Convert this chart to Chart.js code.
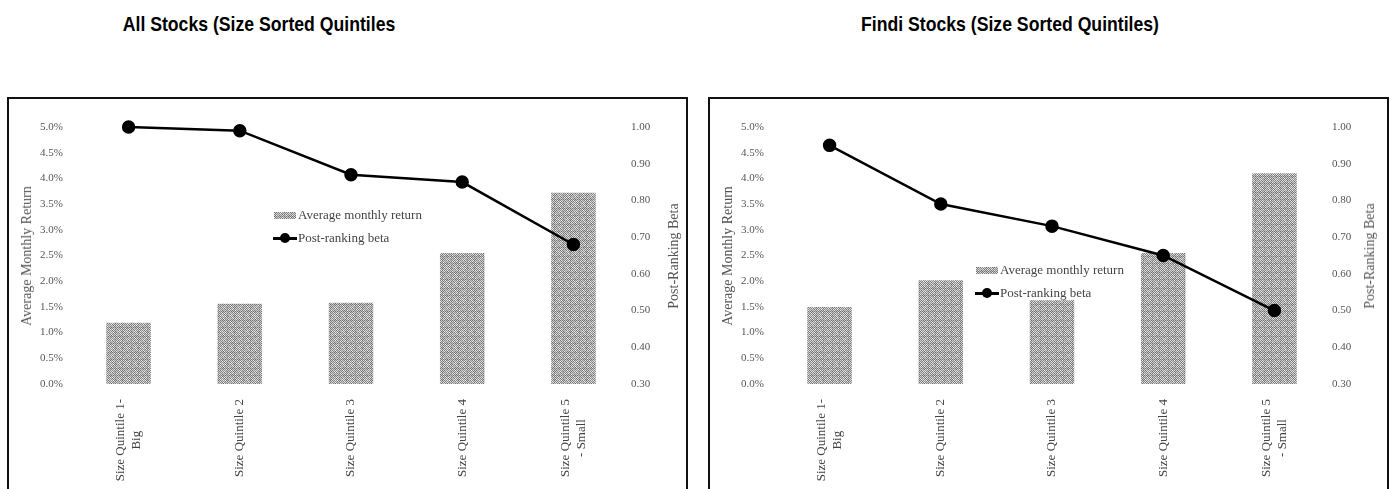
<!DOCTYPE html>
<html>
<head>
<meta charset="utf-8">
<script src="https://cdn.jsdelivr.net/npm/chart.js@4.4.1/dist/chart.umd.min.js"></script>
<style>
  body { margin: 0; width: 1395px; height: 489px; background: #fff; overflow: hidden; position: relative; }
  .title { position: absolute; top: 12px; font: bold 21px "Liberation Sans", Arial, sans-serif; color: #000;
           white-space: nowrap; transform: translateX(-50%) scaleX(0.84); }
  .frame { position: absolute; top: 97px; width: 677px; height: 420px; border: 2px solid #111; border-bottom: none; }
  canvas { position: absolute; }
  .axis-title { position: absolute; font: 14px "Liberation Serif", serif; color: #555; white-space: nowrap;
                transform: translate(-50%, -50%) rotate(-90deg); }
  .legend { position: absolute; font: 13px "Liberation Serif", serif; color: #444; white-space: nowrap; }
  .legend .row { position: relative; height: 23px; padding-left: 25px; line-height: 14px; }
  .legend .swatch { position: absolute; left: 1px; top: 4px; width: 22px; height: 7px; }
  .legend .line { position: absolute; left: 0; top: 6px; width: 24px; height: 2.5px; background: #000; }
  .legend .dot { position: absolute; left: 7px; top: 2px; width: 10px; height: 10px; border-radius: 50%; background: #000; }
</style>
</head>
<body>
<div class="title" style="left:259px">All Stocks (Size Sorted Quintiles</div>
<div class="title" style="left:1010px">Findi Stocks (Size Sorted Quintiles)</div>

<div class="frame" style="left:7px"></div>
<div class="frame" style="left:708px"></div>

<canvas id="allChart" width="677" height="390" style="left:9px; top:99px"></canvas>
<canvas id="findiChart" width="677" height="390" style="left:710px; top:99px"></canvas>

<div class="axis-title" style="left:27px; top:256px">Average Monthly Return</div>
<div class="axis-title" style="left:674px; top:256px">Post-Ranking Beta</div>
<div class="axis-title" style="left:728px; top:256px">Average Monthly Return</div>
<div class="axis-title" style="left:1370px; top:256px">Post-Ranking Beta</div>

<div class="legend" id="allLegend" style="left:273px; top:208px"></div>
<div class="legend" id="findiLegend" style="left:975px; top:263px"></div>

<script>
const quintiles = [
  ['Size Quintile 1-', 'Big'],
  'Size Quintile 2',
  'Size Quintile 3',
  'Size Quintile 4',
  ['Size Quintile 5', '- Small']
];

// average monthly return, percent
const allReturns = [1.19, 1.56, 1.58, 2.55, 3.72];
const findiReturns = [1.50, 2.02, 1.63, 2.55, 4.10];

// post-ranking beta
const allBeta = [1.00, 0.99, 0.87, 0.85, 0.68];
const findiBeta = [0.95, 0.79, 0.73, 0.65, 0.50];

const returnTicks = [0, 0.5, 1.0, 1.5, 2.0, 2.5, 3.0, 3.5, 4.0, 4.5, 5.0];
const betaTicks = [0.30, 0.40, 0.50, 0.60, 0.70, 0.80, 0.90, 1.00];

const barLabel = 'Average monthly return';
const lineLabel = 'Post-ranking beta';

const serif = 'Liberation Serif';

// fine grey dither for the bar fill: checkerboard with a little fixed jitter
function halftoneTile() {
  const n = 16;
  const c = document.createElement('canvas');
  c.width = n;
  c.height = n;
  const g = c.getContext('2d');
  const img = g.createImageData(n, n);
  for (let y = 0; y < n; y++) {
    for (let x = 0; x < n; x++) {
      const jitter = ((x * 73 + y * 151 + x * y * 29) % 9) * 6 - 24;
      const s = ((x + y) % 2 === 0 ? 130 : 215) + jitter;
      const i = (y * n + x) * 4;
      img.data[i] = s;
      img.data[i + 1] = s;
      img.data[i + 2] = s;
      img.data[i + 3] = 255;
    }
  }
  g.putImageData(img, 0, 0);
  return c;
}

const tile = halftoneTile();

function fixedTicks(values) {
  return (scale) => { scale.ticks = values.map((v) => ({ value: v })); };
}

// category labels: rotated, each line centred within its block
const quintileLabels = {
  id: 'quintileLabels',
  afterDraw(chart) {
    const { ctx } = chart;
    const x = chart.scales.x;
    const lh = 16;
    ctx.save();
    ctx.font = '13px "' + serif + '"';
    ctx.fillStyle = '#444';
    ctx.textAlign = 'center';
    ctx.textBaseline = 'middle';
    chart.data.labels.forEach((label, i) => {
      const lines = [].concat(label);
      const w = Math.max(...lines.map((l) => ctx.measureText(l).width));
      ctx.save();
      ctx.translate(x.getPixelForTick(i), x.top + 15);
      ctx.rotate(-Math.PI / 2);
      lines.forEach((line, j) => {
        ctx.fillText(line, -w / 2, (j - (lines.length - 1) / 2) * lh);
      });
      ctx.restore();
    });
    ctx.restore();
  }
};

function makeChart(id, returns, beta) {
  const canvas = document.getElementById(id);
  const fill = canvas.getContext('2d').createPattern(tile, 'repeat');
  return new Chart(canvas, {
    data: {
      labels: quintiles,
      datasets: [
        {
          type: 'line',
          label: lineLabel,
          data: beta,
          yAxisID: 'y1',
          order: 0,
          clip: false,
          borderColor: '#000',
          borderWidth: 2.5,
          pointRadius: 5.5,
          pointBackgroundColor: '#000',
          pointBorderColor: '#000',
          tension: 0
        },
        {
          type: 'bar',
          label: barLabel,
          data: returns,
          yAxisID: 'y',
          order: 1,
          backgroundColor: fill,
          barPercentage: 0.4,
          categoryPercentage: 1
        }
      ]
    },
    plugins: [quintileLabels],
    options: {
      responsive: false,
      animation: false,
      devicePixelRatio: 1,
      layout: { padding: { top: 28 } },
      plugins: { legend: { display: false }, tooltip: { enabled: false } },
      scales: {
        x: {
          grid: { display: false, drawTicks: false },
          border: { display: false },
          ticks: { display: false },
          afterFit: (s) => { s.height = 105; }
        },
        y: {
          position: 'left',
          min: 0,
          max: 5,
          grid: { display: false, drawTicks: false },
          border: { display: false },
          afterBuildTicks: fixedTicks(returnTicks),
          ticks: {
            padding: 10,
            color: '#555',
            font: { family: serif, size: 11 },
            callback: (v) => v.toFixed(1) + '%'
          },
          afterFit: (s) => { s.width = 64; }
        },
        y1: {
          position: 'right',
          min: 0.3,
          max: 1.0,
          grid: { display: false, drawTicks: false },
          border: { display: false },
          afterBuildTicks: fixedTicks(betaTicks),
          ticks: {
            padding: 2,
            color: '#555',
            font: { family: serif, size: 11 },
            callback: (v) => v.toFixed(2)
          },
          afterFit: (s) => { s.width = 57; }
        }
      }
    }
  });
}

function buildLegend(id) {
  const box = document.getElementById(id);
  const swatchUrl = tile.toDataURL();
  box.innerHTML = `
    <div class="row"><span class="swatch" style="background:url(${swatchUrl}) repeat"></span>${barLabel}</div>
    <div class="row"><span class="line"></span><span class="dot"></span>${lineLabel}</div>
  `;
}

makeChart('allChart', allReturns, allBeta);
makeChart('findiChart', findiReturns, findiBeta);
buildLegend('allLegend');
buildLegend('findiLegend');
</script>
</body>
</html>
